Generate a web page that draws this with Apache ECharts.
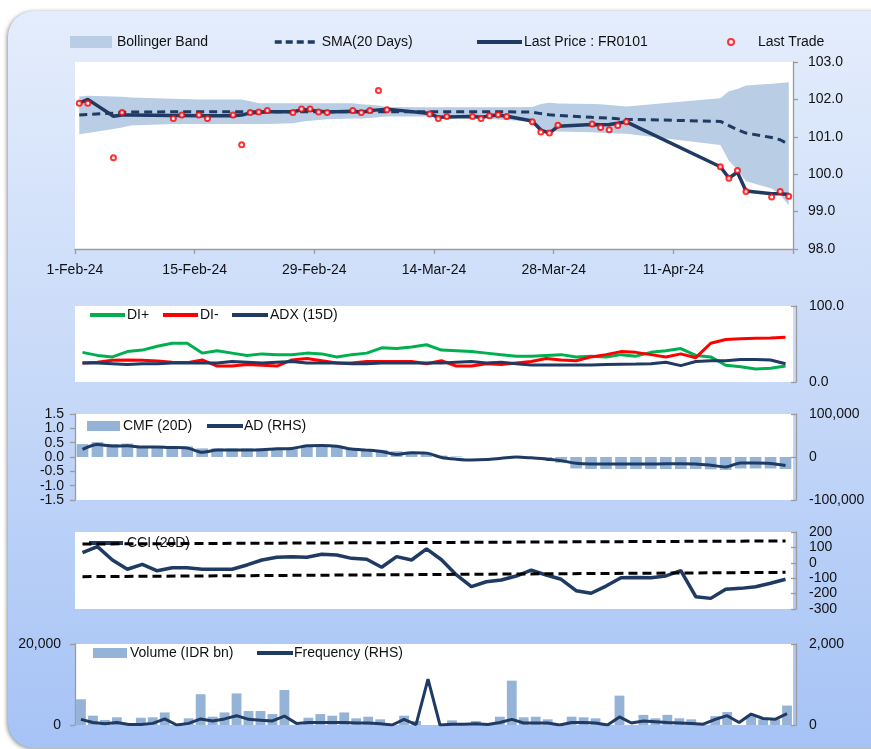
<!DOCTYPE html>
<html>
<head>
<meta charset="utf-8">
<script src="https://cdn.jsdelivr.net/npm/echarts@6/dist/echarts.min.js"></script>
<style>
html,body{margin:0;padding:0;background:#fff;}
#c{width:871px;height:749px;}
</style>
</head>
<body>
<div id="c"></div>
<script>
// ---------- DATA ----------
const tradeDates = ['2024-02-01','2024-02-02','2024-02-05','2024-02-06','2024-02-07','2024-02-12','2024-02-13','2024-02-15','2024-02-16','2024-02-19','2024-02-20','2024-02-21','2024-02-22','2024-02-23','2024-02-26','2024-02-27','2024-02-28','2024-02-29',
 '2024-03-01','2024-03-04','2024-03-05','2024-03-06','2024-03-07','2024-03-08','2024-03-13','2024-03-14','2024-03-15','2024-03-18','2024-03-19','2024-03-20','2024-03-21','2024-03-22','2024-03-25','2024-03-26','2024-03-27','2024-03-28',
 '2024-04-01','2024-04-02','2024-04-03','2024-04-04','2024-04-05','2024-04-16','2024-04-17','2024-04-18','2024-04-19','2024-04-22','2024-04-23','2024-04-24'];

const lastPrice = [101.90,102.00,101.55,101.58,101.58,101.57,101.57,101.56,101.56,101.56,101.58,101.64,101.65,101.67,101.67,101.72,101.72,101.68,
 101.66,101.68,101.66,101.70,101.72,101.74,101.62,101.52,101.53,101.54,101.52,101.56,101.58,101.55,101.42,101.18,101.10,101.28,
 101.33,101.32,101.33,101.36,101.40,100.20,99.90,100.05,99.55,99.48,99.48,99.46];

const lastTrade = [101.90,101.90,100.44,101.65,null,101.49,101.58,101.58,101.49,101.58,100.79,101.65,101.66,101.70,101.65,101.74,101.74,101.66,
 101.65,101.70,101.65,101.70,102.24,101.72,101.61,101.49,101.54,101.54,101.49,101.56,101.59,101.54,101.40,101.13,101.10,101.31,
 101.34,101.25,101.19,101.30,101.40,100.20,99.89,100.10,99.54,99.39,99.54,99.41];

const sma20 = [101.58,101.60,101.63,101.65,101.66,101.67,101.67,101.67,101.67,101.67,101.67,101.67,101.67,101.67,101.67,101.67,101.67,101.67,
 101.67,101.67,101.67,101.67,101.67,101.67,101.67,101.67,101.67,101.67,101.67,101.67,101.67,101.67,101.66,101.62,101.59,101.57,
 101.52,101.51,101.50,101.48,101.47,101.41,101.30,101.19,101.10,100.98,100.92,100.80];

const bandUpper = [102.08,102.10,102.08,102.07,102.05,102.02,102.01,102.00,102.00,102.00,102.00,101.95,101.90,101.90,101.90,101.90,101.90,101.90,
 101.90,101.90,101.87,101.86,101.84,101.80,101.79,101.79,101.79,101.79,101.79,101.79,101.79,101.79,101.80,101.88,101.91,101.89,
 101.88,101.87,101.85,101.83,101.81,102.03,102.22,102.28,102.37,102.42,102.44,102.46];

const bandLower = [101.07,101.10,101.21,101.25,101.30,101.34,101.34,101.34,101.34,101.34,101.34,101.34,101.34,101.34,101.36,101.40,101.43,101.45,
 101.47,101.49,101.49,101.50,101.52,101.54,101.54,101.54,101.54,101.52,101.50,101.48,101.46,101.45,101.40,101.18,101.14,101.14,
 101.12,101.11,101.10,101.09,101.08,100.78,100.36,100.12,99.81,99.62,99.45,99.16];

const diPlus = [39,35,33,40,42,47,51,51,38,41,38,35,37,36,36,38,37,33,36,38,45,44,46,49,42,41,40,38,36,34,34,35,36,33,34,33,36,34,39,41,44,35,33,22,20,17,18,21];
const diMinus = [25,26,28.5,29,28.5,27.5,26,25.5,29,21,21,23,22,21,29,31,28,25,25,27,27,27,27,24,28,21,21,24,23,25,27,31,29,28,33,36,40,39,36,33,37,32,51,56,57,57.5,58,59];
const adx15 = [25,25,24,23,24,24,25,25,25,25,27,26,25,26,27,25,25,25,24,24,25,25,25,25,25,26,27,25,26,24,22.5,22.5,22.5,22.5,22.5,23,23.5,23.7,24,26,21.5,27,28,28,29.5,29.5,29,24];

const cmf20 = [0.45,0.52,0.45,0.47,0.38,0.38,0.38,0.37,0.30,0.30,0.30,0.30,0.30,0.30,0.32,0.38,0.40,0.38,0.30,0.28,0.25,0.20,0.18,0.15,0.05,0.02,0.0,0.0,0.0,0.0,-0.05,-0.10,-0.20,-0.40,-0.42,-0.42,-0.42,-0.42,-0.42,-0.42,-0.42,-0.42,-0.43,-0.45,-0.40,-0.40,-0.40,-0.42];
const adLine = [17700,29000,25400,26000,23000,23000,22000,21000,10800,16000,16000,16000,17000,19000,20000,26000,27000,25000,18500,16000,12700,6000,10000,9000,-1000,-5000,-7000,-6000,-3000,0,-2000,-5000,-8400,-14600,-16000,-16000,-16000,-16500,-16500,-15500,-15500,-16000,-19000,-23000,-14000,-14000,-15000,-19700];

const cci20 = [66,105,18,-42,-10,-52,-32,-32,-42,-42,-42,-14,18,36,40,36,55,51,29,23,-29,40,18,90,20,-79,-155,-123,-112,-86,-47,-79,-107,-181,-198,-151,-97,-95,-97,-85,-51,-220,-231,-172,-166,-155,-133,-107];
const cciUpperEnds = [122,142];
const cciLowerEnds = [-90,-62];

const volume = [6350,2300,1250,1900,0,1800,1900,3100,0,1650,7600,2050,3100,7800,3450,3450,2700,8650,0,1800,2700,2300,3100,1650,2050,1400,0,2300,1000,0,0,1150,0,1000,0,2050,10950,1900,2050,1400,0,2050,1900,1650,0,7250,0,2500,1650,2500,1650,1400,0,2200,3200,0,2450,1400,1400,4800];
const frequency = [140,60,30,60,10,10,40,150,0,40,150,100,150,230,140,120,100,220,40,60,60,60,60,50,50,30,0,140,10,1130,0,20,20,30,10,60,140,50,50,50,0,60,60,50,0,200,50,100,80,60,50,40,20,140,230,60,270,160,140,280];

const priceTicks = [98,103,1];
const dateLabelStep = 14;
// ---------- helpers ----------
const DAY = 86400000;
const calStart = Date.UTC(2024,1,1);
const calEnd = Date.UTC(2024,3,24);
const MON = ['Jan','Feb','Mar','Apr','May','Jun','Jul','Aug','Sep','Oct','Nov','Dec'];
const calDays = [], weekDays = [];
for (let t = calStart; t <= calEnd; t += DAY) {
  const d = new Date(t);
  const s = d.toISOString().slice(0,10);
  calDays.push(s);
  const wd = d.getUTCDay();
  if (wd !== 0 && wd !== 6) weekDays.push(s);
}
const calBounds = calDays.concat([new Date(calEnd + DAY).toISOString().slice(0,10)]);
const fmtDate = s => { const d = new Date(s + 'T00:00:00Z'); return d.getUTCDate() + '-' + MON[d.getUTCMonth()] + '-' + String(d.getUTCFullYear()).slice(2); };
const calIdx = s => Math.round((Date.parse(s + 'T00:00:00Z') - calStart) / DAY);
const pairs = arr => tradeDates.map((d,i) => [calIdx(d), arr[i]]).filter(p => p[1] !== null);
const bandDiff = bandUpper.map((u,i) => +(u - bandLower[i]).toFixed(4));

const NAVY = '#1f3a63';
const BARC = '#95b3d7';
const FONT = 'Liberation Sans';
const txt = {color:'#111', fontFamily:FONT, fontSize:14};
const axisLineC = '#9b9b9b';

function lg(name, left, top, w, h, gap, extra) {
  return Object.assign({
    data:[name], left:left, top:top, itemWidth:w, itemHeight:h, itemGap:0,
    textStyle:Object.assign({}, txt, {padding:[0,0,0,gap-5]}), selectedMode:false, padding:0
  }, extra || {});
}
const lineIcon = {itemStyle:{opacity:0}, lineStyle:{width:4}};

const chart = echarts.init(document.getElementById('c'), null, {renderer:'canvas'});

const grids = [
  {left:75, top:62, width:718, height:187},
  {left:75, top:306, width:718, height:76},
  {left:75, top:414, width:718, height:86},
  {left:75, top:532, width:718, height:77},
  {left:75, top:644, width:718, height:81}
].map(g => Object.assign(g, {show:true, backgroundColor:'#ffffff', borderWidth:0, borderColor:'rgba(0,0,0,0)', containLabel:false}));

const hiddenCat = (gi, data) => ({type:'category', gridIndex:gi, data:data, show:false, boundaryGap:true,
  axisLine:{show:false}, axisTick:{show:false}, axisLabel:{show:false}, splitLine:{show:false}});

const rightAxis = (gi, min, max, interval, fmt, inside) => ({
  type:'value', gridIndex:gi, position:'right', min:min, max:max, interval:interval, offset: inside ? 3 : 0,
  axisLine:{show:true, onZero:false, lineStyle:{color:axisLineC, width:1.3}},
  axisTick:{show:true, inside:!!inside, length:5, lineStyle:{color:axisLineC, width:1.3}},
  splitLine:{show:false},
  axisLabel:Object.assign({}, txt, {margin: inside ? 13 : 15, formatter:fmt})
});
const leftAxis = (gi, min, max, interval, fmt, margin) => ({
  type:'value', gridIndex:gi, position:'left', min:min, max:max, interval:interval,
  axisLine:{show:true, onZero:false, lineStyle:{color:axisLineC, width:1.3}},
  axisTick:{show:true, inside:false, length:5, lineStyle:{color:axisLineC, width:1.3}},
  splitLine:{show:false},
  axisLabel:Object.assign({}, txt, {margin:margin, formatter:fmt})
});
const thous = v => v.toLocaleString('en-US');

const option = {
  animation:false,
  backgroundColor:'transparent',
  graphic:[{
    type:'rect', z:-100, silent:true,
    shape:{x:8, y:11, width:940, height:737, r:26},
    style:{
      fill:new echarts.graphic.LinearGradient(0,0,0,1,[{offset:0,color:'#e4edfc'},{offset:0.5,color:'#c7d9f8'},{offset:1,color:'#a6c3f6'}]),
      shadowBlur:4, shadowColor:'rgba(0,0,0,0.45)', shadowOffsetX:-1, shadowOffsetY:1
    }
  }],
  grid:grids,
  legend:[
    lg('Bollinger Band', 70, 35, 42, 12, 5, {icon:'rect'}),
    lg('SMA(20 Days)', 273, 35, 42, 14, 5, {itemStyle:{opacity:0}, lineStyle:{type:[7,4], width:3.5}}),
    lg('Last Price : FR0101', 475, 35, 45, 14, 2, lineIcon),
    lg('Last Trade', 727, 35, 6, 6, 24, {icon:'emptyCircle'}),
    lg('DI+', 88, 308, 35, 14, 2, lineIcon),
    lg('DI-', 161, 308, 35, 14, 2, lineIcon),
    lg('ADX (15D)', 230, 308, 36, 14, 2, lineIcon),
    lg('CMF (20D)', 87, 419, 33, 10, 3, {icon:'rect'}),
    lg('AD (RHS)', 205, 419, 36, 14, 1, lineIcon),
    lg('CCI (20D)', 87, 536, 34, 14, 4, Object.assign({z:1}, lineIcon)),
    lg('Volume (IDR bn)', 93, 646, 34, 10, 3, {icon:'rect'}),
    lg('Frequency (RHS)', 255, 646, 36, 14, 1, lineIcon)
  ],
  xAxis:[
    hiddenCat(0, calDays),
    {type:'category', gridIndex:0, data:calBounds, boundaryGap:false, position:'bottom',
     axisLine:{show:true, onZero:false, lineStyle:{color:axisLineC, width:1.3}},
     axisTick:{show:true, length:5, interval:(i) => i % dateLabelStep === 0, lineStyle:{color:axisLineC, width:1.3}},
     splitLine:{show:false},
     axisLabel:Object.assign({}, txt, {margin:14, interval:(i) => i % dateLabelStep === 0 && i < calDays.length, formatter:fmtDate})},
    hiddenCat(1, tradeDates),
    hiddenCat(2, tradeDates),
    hiddenCat(3, tradeDates),
    hiddenCat(4, weekDays)
  ],
  yAxis:[
    rightAxis(0, priceTicks[0], priceTicks[1], priceTicks[2], v => v.toFixed(1), false),
    rightAxis(1, 0, 100, 100, v => v.toFixed(1), true),
    leftAxis(2, -1.5, 1.5, 0.5, v => v.toFixed(1), 11),
    rightAxis(2, -100000, 100000, 100000, thous, true),
    rightAxis(3, -300, 200, 100, v => String(v), true),
    leftAxis(4, 0, 20000, 20000, thous, 14),
    rightAxis(4, 0, 2000, 2000, thous, true)
  ],
  series:[
    {name:'bandLower', type:'line', xAxisIndex:0, yAxisIndex:0, stack:'band', data:pairs(bandLower),
     symbol:'none', lineStyle:{width:0, opacity:0}, silent:true, z:1},
    {name:'Bollinger Band', type:'line', xAxisIndex:0, yAxisIndex:0, stack:'band', data:bandDiff.map((v,i)=>[calIdx(tradeDates[i]), v]),
     symbol:'none', lineStyle:{width:0, opacity:0}, itemStyle:{color:'#b9cde5'}, areaStyle:{color:'#b9cde5', opacity:1}, z:1},
    {name:'SMA(20 Days)', type:'line', xAxisIndex:0, yAxisIndex:0, data:pairs(sma20), symbol:'none',
     itemStyle:{color:NAVY}, lineStyle:{color:NAVY, width:3, type:[8,5]}, z:3},
    {name:'Last Price : FR0101', type:'line', xAxisIndex:0, yAxisIndex:0, data:pairs(lastPrice), symbol:'none',
     itemStyle:{color:NAVY}, lineStyle:{color:NAVY, width:3.5}, z:4},
    {name:'Last Trade', type:'scatter', xAxisIndex:0, yAxisIndex:0, data:pairs(lastTrade), symbol:'emptyCircle', symbolSize:5,
     itemStyle:{color:'#ff0000', borderColor:'#ff0000', borderWidth:1.2}, z:5},

    {name:'DI+', type:'line', xAxisIndex:2, yAxisIndex:1, data:diPlus, symbol:'none', itemStyle:{color:'#00b050'}, lineStyle:{color:'#00b050', width:3}},
    {name:'DI-', type:'line', xAxisIndex:2, yAxisIndex:1, data:diMinus, symbol:'none', itemStyle:{color:'#ff0000'}, lineStyle:{color:'#ff0000', width:3}},
    {name:'ADX (15D)', type:'line', xAxisIndex:2, yAxisIndex:1, data:adx15, symbol:'none', itemStyle:{color:NAVY}, lineStyle:{color:NAVY, width:3}},

    {name:'CMF (20D)', type:'bar', xAxisIndex:3, yAxisIndex:2, data:cmf20, barCategoryGap:'22%', itemStyle:{color:BARC}},
    {name:'AD (RHS)', type:'line', xAxisIndex:3, yAxisIndex:3, data:adLine, symbol:'none', smooth:0.3, itemStyle:{color:NAVY}, lineStyle:{color:NAVY, width:3}},

    {name:'cciUp', type:'line', xAxisIndex:4, yAxisIndex:4, data:[[0,cciUpperEnds[0]],[tradeDates.length-1,cciUpperEnds[1]]], symbol:'none',
     lineStyle:{color:'#000', width:3, type:[9,5]}, silent:true, z:3},
    {name:'cciDn', type:'line', xAxisIndex:4, yAxisIndex:4, data:[[0,cciLowerEnds[0]],[tradeDates.length-1,cciLowerEnds[1]]], symbol:'none',
     lineStyle:{color:'#000', width:3, type:[9,5]}, silent:true, z:3},
    {name:'CCI (20D)', type:'line', xAxisIndex:4, yAxisIndex:4, data:cci20, symbol:'none', itemStyle:{color:NAVY}, lineStyle:{color:NAVY, width:3.5}, z:2},

    {name:'Volume (IDR bn)', type:'bar', xAxisIndex:5, yAxisIndex:5, data:volume, barCategoryGap:'18%', itemStyle:{color:BARC}},
    {name:'Frequency (RHS)', type:'line', xAxisIndex:5, yAxisIndex:6, data:frequency, symbol:'none', itemStyle:{color:NAVY}, lineStyle:{color:NAVY, width:3}}
  ]
};
chart.setOption(option);
</script>
</body>
</html>
